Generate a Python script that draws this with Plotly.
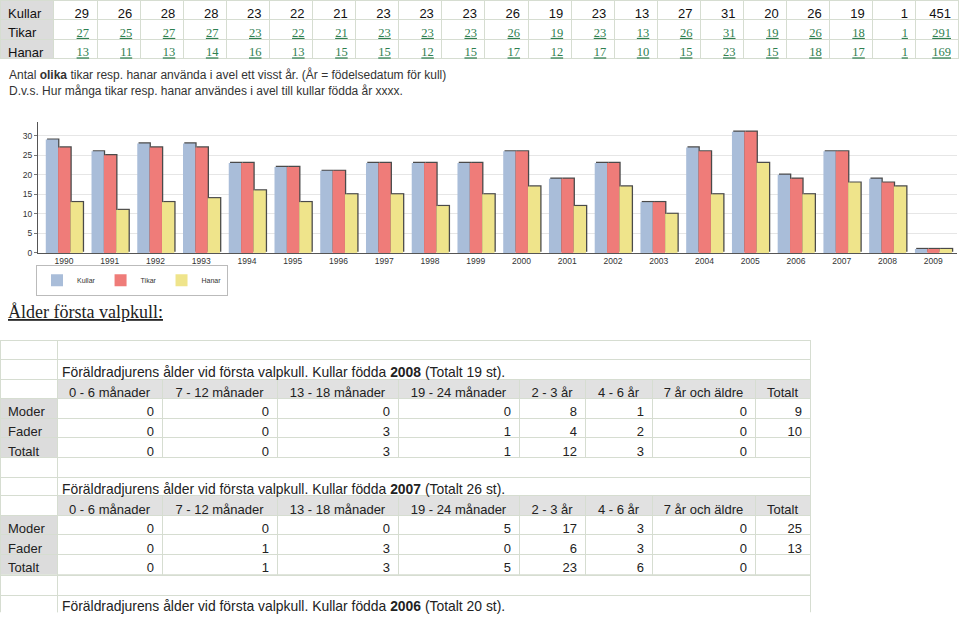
import plotly.graph_objects as go

W, H = 960, 618

# ---------------- data ----------------
years = [str(y) for y in range(1990, 2010)]
kullar = [29, 26, 28, 28, 23, 22, 21, 23, 23, 23, 26, 19, 23, 13, 27, 31, 20, 26, 19, 1]
tikar = [27, 25, 27, 27, 23, 22, 21, 23, 23, 23, 26, 19, 23, 13, 26, 31, 19, 26, 18, 1]
hanar = [13, 11, 13, 14, 16, 13, 15, 15, 12, 15, 17, 12, 17, 10, 15, 23, 15, 18, 17, 1]
totals = {"Kullar": 451, "Tikar": 291, "Hanar": 169}
row_labels = ["Kullar", "Tikar", "Hanar"]

age_groups = ["0 - 6 månader", "7 - 12 månader", "13 - 18 månader", "19 - 24 månader",
              "2 - 3 år", "4 - 6 år", "7 år och äldre", "Totalt"]
parent_labels = ["Moder", "Fader", "Totalt"]
t2008_moder = [0, 0, 0, 0, 8, 1, 0, 9]
t2008_fader = [0, 0, 3, 1, 4, 2, 0, 10]
t2008_totalt = [0, 0, 3, 1, 12, 3, 0, ""]
t2007_moder = [0, 0, 0, 5, 17, 3, 0, 25]
t2007_fader = [0, 1, 3, 0, 6, 3, 0, 13]
t2007_totalt = [0, 1, 3, 5, 23, 6, 0, ""]
caption_years = ["2008", "2007", "2006"]
caption_counts = [19, 26, 20]

text_line1 = "Antal <b>olika</b> tikar resp. hanar använda i avel ett visst år. (År = födelsedatum för kull)"
text_line2 = "D.v.s. Hur många tikar resp. hanar användes i avel till kullar födda år xxxx."
section_title = "Ålder första valpkull:"

# ---------------- styles ----------------
C_K, C_T, C_H = "#a9bdd9", "#ef7c79", "#efe48b"
SANS = "Arial, Liberation Sans, sans-serif"
SERIF = "Times New Roman, Liberation Serif, serif"
LINK = "#2f8050"
LABEL_BG = "#dcdcdc"
HEAD_BG = "#e1e1e1"
LINE = "#d6ddd1"
ROW_H = 19.5
LOW_FONT = dict(family=SANS, size=13, color="#222")
HEAD_FONT = dict(family=SANS, size=13, color="#222")


def px(x):
    return x / W


def py(y):
    return 1 - y / H


fig = go.Figure()

# ---------------- top table: Kullar row as header, Tikar/Hanar link rows as cells ----------------
ncol = 2 + len(years)
colw = [54] + [43.1] * (ncol - 1)
align_top = ["left"] + ["right"] * (ncol - 1)
fill_top = [LABEL_BG] + ["white"] * (ncol - 1)

kull_row = [row_labels[0]] + [str(v) for v in kullar] + [str(totals["Kullar"])]
link_cols = [row_labels[1:]] + [[str(t), str(h)] for t, h in zip(tikar, hanar)] \
    + [[str(totals["Tikar"]), str(totals["Hanar"])]]

fig.add_trace(go.Table(
    domain=dict(x=[0, px(959)], y=[py(3 * ROW_H + 3), 1]),
    columnwidth=colw,
    header=dict(values=kull_row, height=ROW_H, fill=dict(color=fill_top),
                align=align_top, line=dict(color=LINE, width=1),
                font=dict(color="#111", family=SANS, size=13)),
    cells=dict(values=link_cols, height=ROW_H, fill=dict(color=fill_top),
               align=align_top, line=dict(color=LINE, width=1),
               font=dict(color=["#111"] + [LINK] * (ncol - 1),
                         family=[SANS] + [SERIF] * (ncol - 1),
                         size=[13] + [12.5] * (ncol - 1),
                         lineposition=["none"] + ["under"] * (ncol - 1))),
))

# ---------------- bar chart ----------------
bw = 0.27
offsets = [-0.40, -0.13, 0.14]
series = [("Kullar", kullar, C_K), ("Tikar", tikar, C_T), ("Hanar", hanar, C_H)]
sh_dx, sh_dy = 0.028, 0.3
for (name, vals, col), off in zip(series, offsets):
    fig.add_trace(go.Bar(x=years, y=vals, base=sh_dy, offset=off + sh_dx, width=bw,
                         marker=dict(color="#4a4a4a", line=dict(width=0)),
                         showlegend=False, hoverinfo="skip"))
for (name, vals, col), off in zip(series, offsets):
    fig.add_trace(go.Bar(x=years, y=vals, name=name, offset=off, width=bw,
                         marker=dict(color=col, line=dict(width=0))))

fig.update_xaxes(domain=[px(38), px(957)], range=[-0.57, 19.52], showline=True,
                 linecolor="#555", linewidth=1, ticks="", showgrid=False,
                 tickfont=dict(size=8.5, family=SANS, color="#333"))
fig.update_yaxes(domain=[py(255), py(123)], range=[0, 33.5], dtick=5, showline=True,
                 linecolor="#555", linewidth=1, ticks="outside", ticklen=3, tickcolor="#777",
                 gridcolor="#e6e6e6", zeroline=False,
                 tickfont=dict(size=8.5, family=SANS, color="#333"))

# ---------------- lower tables ----------------
LOW_TOP = 343
LOW_H = 19.6
N_LOW_ROWS = 14
low_colw = [57, 105, 115, 121, 121, 66, 67, 103, 55]
ncol2 = len(low_colw)
X_LOW = [0, px(810)]

# frame (blank grid: label column + body) underneath
fig.add_trace(go.Table(
    domain=dict(x=X_LOW, y=[0, py(LOW_TOP)]),
    columnwidth=[low_colw[0], sum(low_colw[1:])],
    header=dict(values=["", ""], height=LOW_H, fill=dict(color="white"),
                line=dict(color=LINE, width=1)),
    cells=dict(values=[[""] * (N_LOW_ROWS - 1)] * 2, height=LOW_H,
               fill=dict(color="white"), line=dict(color=LINE, width=1)),
))


def row_top(r):
    return LOW_TOP + LOW_H * r


blocks = [(t2008_moder, t2008_fader, t2008_totalt), (t2007_moder, t2007_fader, t2007_totalt)]
caption_rows = [1, 7, 13]
for b, cr in zip(blocks, caption_rows):
    hr = cr + 1
    vcols = [parent_labels] + [[str(b[0][i]), str(b[1][i]), str(b[2][i])] for i in range(len(age_groups))]
    fig.add_trace(go.Table(
        domain=dict(x=X_LOW, y=[py(row_top(hr + 4) + 2), py(row_top(hr))]),
        columnwidth=low_colw,
        header=dict(values=[""] + age_groups, height=LOW_H,
                    fill=dict(color=["white"] + [HEAD_BG] * (ncol2 - 1)), align="center",
                    line=dict(color=LINE, width=1), font=HEAD_FONT),
        cells=dict(values=vcols, height=LOW_H,
                   fill=dict(color=[LABEL_BG] + ["white"] * (ncol2 - 1)),
                   align=["left"] + ["right"] * (ncol2 - 1),
                   line=dict(color=LINE, width=1), font=LOW_FONT),
    ))

# ---------------- texts ----------------
ann = [
    dict(text=text_line1, x=px(7), y=py(75), font=dict(size=12, family=SANS, color="#333")),
    dict(text=text_line2, x=px(7), y=py(92), font=dict(size=12, family=SANS, color="#333")),
    dict(text=f"<u>{section_title}</u>", x=px(6), y=py(315),
         font=dict(size=18, family=SERIF, color="#222")),
]
for cr, yr, n in zip(caption_rows, caption_years, caption_counts):
    yc = row_top(cr) + LOW_H / 2 + 3
    ann.append(dict(text=f"Föräldradjurens ålder vid första valpkull. Kullar födda <b>{yr}</b> (Totalt {n} st).",
                    x=px(60), y=py(yc), font=dict(size=13.9, family=SANS, color="#222")))
for a in ann:
    fig.add_annotation(xref="paper", yref="paper", xanchor="left", yanchor="middle",
                       showarrow=False, **a)

fig.update_layout(
    width=W, height=H, margin=dict(l=0, r=0, t=0, b=0),
    paper_bgcolor="white", plot_bgcolor="white", barmode="overlay",
    legend=dict(orientation="h", x=px(36), y=py(267), xanchor="left", yanchor="top",
                bordercolor="#bbb", borderwidth=1, bgcolor="white", itemwidth=30,
                font=dict(size=7, family=SANS, color="#333")),
)

fig.write_html("out.html")
